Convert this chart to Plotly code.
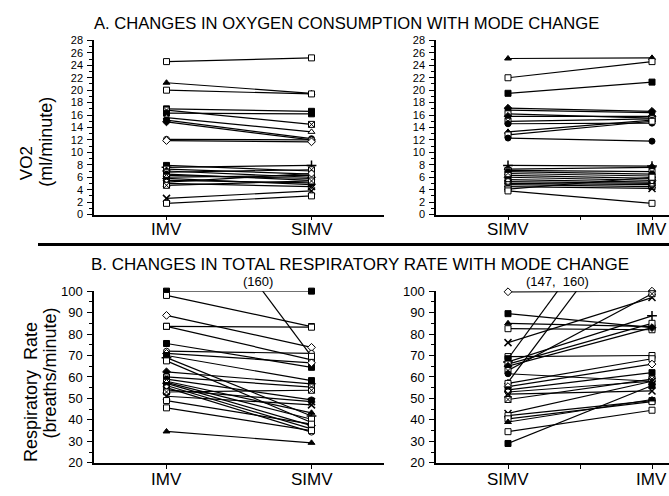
import plotly.graph_objects as go

W, H = 669, 496

# ---------------- data ----------------
# Panel A (VO2, ml/minute)
vo2_left_imv = [24.6, 21.2, 20.0, 17.0, 16.8, 16.3, 15.6, 15.2, 14.9, 12.1, 11.9,
                7.9, 7.6, 7.3, 7.0, 6.8, 6.5, 6.3, 6.0, 5.8, 5.5, 5.2, 5.0, 4.7, 2.6, 1.8]
vo2_left_simv = [25.2, 19.5, 19.4, 16.6, 14.5, 16.2, 13.3, 12.2, 12.0, 12.0, 11.7,
                 7.0, 7.9, 6.5, 6.0, 7.2, 5.5, 5.8, 6.3, 4.8, 5.1, 6.6, 4.5, 5.4, 3.8, 3.0]
vo2_right_simv = [25.1, 22.0, 19.5, 17.1, 16.8, 16.2, 15.8, 15.0, 14.6, 13.3, 12.8, 12.3,
                  7.9, 7.3, 7.1, 6.9, 6.6, 6.3, 6.0, 5.6, 5.3, 5.0, 4.8, 4.5, 4.1, 3.8]
vo2_right_imv = [25.2, 24.6, 21.3, 16.6, 16.4, 15.5, 15.8, 15.4, 14.7, 15.2, 15.0, 11.8,
                 7.8, 7.6, 6.9, 6.5, 6.2, 5.8, 5.5, 5.2, 5.0, 4.8, 4.5, 4.2, 6.0, 1.8]

# Panel B (respiratory rate, breaths/minute); values above 100 run off the axis
rr_left_imv = [100, 98, 88.7, 83.6, 83.6, 75.6, 72, 71, 70, 69, 67.5, 62.4, 60, 59, 58,
               57.5, 57, 56, 55, 54, 53, 51, 49, 45.6, 34.6, 160]
rr_left_simv = [100, 83.5, 73.8, 83.2, 68, 64.5, 71, 66.6, 58.3, 41.8, 38.8, 56.8, 55.3,
                49.3, 43.3, 40.3, 37.3, 35.8, 34.3, 48.5, 53.8, 47, 38, 35, 29.3, 69.6]
rr_right_simv = [99.7, 89.5, 85, 82.5, 76, 69.5, 68.5, 67, 66, 65, 63, 61.5, 57.5, 57,
                 55.5, 54, 53, 52, 49.5, 43, 42, 40.5, 39, 34.5, 29]
rr_right_imv = [100, 83, 83.5, 82, 97, 70, 160, 88.5, 85, 83, 98.8, 58, 147, 68.5, 66,
                62, 58, 53.5, 59, 58, 49, 48.5, 49.5, 44.5, 56]

left_labels = ["IMV", "SIMV"]
right_labels = ["SIMV", "IMV"]
vo2_ticks = list(range(0, 29, 2))
rr_ticks = list(range(20, 101, 10))

# ---------------- styling ----------------
FONT = "Liberation Sans, Arial, Helvetica, sans-serif"
STYLE_CYCLE = [
    ("square", "white"), ("triangle-up", "black"), ("square", "white"), ("square", "black"),
    ("square-x", "white"), ("square", "black"), ("triangle-up", "white"), ("circle", "black"),
    ("diamond", "black"), ("circle", "white"), ("diamond", "white"), ("square", "black"),
    ("cross-thin-open", "black"), ("square", "white"), ("diamond", "black"), ("square-x", "white"),
    ("circle", "black"), ("triangle-up", "black"), ("square", "white"), ("diamond", "white"),
    ("square", "black"), ("circle", "white"), ("x-thin-open", "black"), ("square-x", "white"),
    ("x-thin-open", "black"), ("square", "white"),
]
# leading markers specific to some panels
VO2_RIGHT_HEAD = [("triangle-up", "black"), ("square", "white"), ("square", "black"),
                  ("diamond", "black"), ("circle", "black"), ("square", "white"),
                  ("diamond", "black"), ("square-x", "white"), ("circle", "black"),
                  ("triangle-up", "black"), ("square", "white"), ("circle", "black"),
                  ("cross-thin-open", "black")]
RR_LEFT_HEAD = [("square", "black"), ("square", "white"), ("diamond", "white"),
                ("square", "white"), ("square", "white"), ("square", "black")]
RR_RIGHT_HEAD = [("diamond", "white"), ("square", "black"), ("triangle-up", "black"),
                 ("square", "white"), ("x-thin-open", "black"), ("square", "white")]

fig = go.Figure()


def add_panel(xa, ya, start, end, ymax, offset=0, head=None):
    head = head or []
    for i, (a, b) in enumerate(zip(start, end)):
        if i < len(head):
            sym, fill = head[i]
        else:
            sym, fill = STYLE_CYCLE[(i + offset) % len(STYLE_CYCLE)]
        thin = "thin" in sym
        off = max(a, b) > ymax
        fig.add_trace(go.Scatter(
            x=[0, 1], y=[a, b], xaxis=xa, yaxis=ya, mode="lines+markers",
            line=dict(color="black", width=1.2),
            marker=dict(symbol=sym, size=6 if not thin else 7, color=fill,
                        line=dict(color="black", width=1.5 if thin else 1)),
            cliponaxis=off, showlegend=False, hoverinfo="skip"))


add_panel("x", "y", vo2_left_imv, vo2_left_simv, 28)
add_panel("x2", "y2", vo2_right_simv, vo2_right_imv, 28, offset=1, head=VO2_RIGHT_HEAD)
add_panel("x3", "y3", rr_left_imv, rr_left_simv, 100, offset=3, head=RR_LEFT_HEAD)
add_panel("x4", "y4", rr_right_simv, rr_right_imv, 100, offset=5, head=RR_RIGHT_HEAD)


def px_x(p):
    return p / W


def px_y(p):
    return 1 - p / H


LX0, LX1 = 94, 384
RX0 = 436
TOP_Y = (214, 34.5)
BOT_Y = (470, 293)

xcommon = dict(showline=True, linecolor="black", linewidth=1.5, ticks="outside",
               ticklen=4, tickwidth=1.2, tickcolor="black", showgrid=False,
               zeroline=False, showticklabels=False, fixedrange=True)
ycommon = dict(showline=True, linecolor="black", linewidth=1.5, ticks="outside",
               ticklen=5, tickwidth=1.2, tickcolor="black", showgrid=False,
               zeroline=False, fixedrange=True, ticklabelstandoff=2)

left_range = [-0.5, 1.5]
right_range = [-0.5, (W - 508) / 144]

layout = dict(
    width=W, height=H, margin=dict(l=0, r=0, t=0, b=0),
    paper_bgcolor="white", plot_bgcolor="white",
    font=dict(family=FONT, color="black"),
    xaxis=dict(domain=[px_x(LX0), px_x(LX1)], range=left_range, tickvals=[0, 1],
               anchor="y", **xcommon),
    xaxis2=dict(domain=[px_x(RX0), 1.0], range=right_range, tickvals=[0, 0.5, 1],
                anchor="y2", **xcommon),
    xaxis3=dict(domain=[px_x(LX0), px_x(LX1)], range=left_range, tickvals=[0, 1],
                anchor="y3", **xcommon),
    xaxis4=dict(domain=[px_x(RX0), 1.0], range=right_range, tickvals=[0, 0.5, 1],
                anchor="y4", **xcommon),
    yaxis=dict(domain=[px_y(TOP_Y[0]), px_y(TOP_Y[1])], range=[0, 28], tickvals=vo2_ticks,
               minor=dict(dtick=1, tick0=0, ticks="outside", ticklen=3, tickcolor="black"),
               tickfont=dict(size=11, color="black"), anchor="x", **ycommon),
    yaxis2=dict(domain=[px_y(TOP_Y[0]), px_y(TOP_Y[1])], range=[0, 28], tickvals=vo2_ticks,
                minor=dict(dtick=1, tick0=0, ticks="outside", ticklen=3, tickcolor="black"),
                tickfont=dict(size=11, color="black"), anchor="x2", **ycommon),
    yaxis3=dict(domain=[px_y(BOT_Y[0]), px_y(BOT_Y[1])], range=[20, 100], tickvals=rr_ticks,
                minor=dict(dtick=5, tick0=0, ticks="outside", ticklen=3, tickcolor="black"),
                tickfont=dict(size=13, color="black"), anchor="x3", **ycommon),
    yaxis4=dict(domain=[px_y(BOT_Y[0]), px_y(BOT_Y[1])], range=[20, 100], tickvals=rr_ticks,
                minor=dict(dtick=5, tick0=0, ticks="outside", ticklen=3, tickcolor="black"),
                tickfont=dict(size=13, color="black"), anchor="x4", **ycommon),
)
fig.update_layout(**layout)


def ann(text, x, y, size, angle=0):
    fig.add_annotation(text=text, x=px_x(x), y=px_y(y), xref="paper", yref="paper",
                       showarrow=False, textangle=angle, xanchor="center", yanchor="middle",
                       font=dict(size=size, color="black", family=FONT))


def cat_labels(xref, labels, ypx, last_right=False):
    for i, lab in enumerate(labels):
        if last_right and i == len(labels) - 1:
            fig.add_annotation(text=lab, x=1.0, y=px_y(ypx), xref="paper", yref="paper",
                               showarrow=False, xanchor="right", yanchor="middle",
                               font=dict(size=17, color="black", family=FONT))
        else:
            fig.add_annotation(text=lab, x=i, y=px_y(ypx), xref=xref, yref="paper",
                               showarrow=False, xanchor="center", yanchor="middle",
                               font=dict(size=17, color="black", family=FONT))


cat_labels("x", left_labels, 229)
cat_labels("x2", right_labels, 229, last_right=True)
cat_labels("x3", left_labels, 487)
cat_labels("x4", right_labels, 487, last_right=True)

ann("A. CHANGES IN OXYGEN CONSUMPTION WITH MODE CHANGE", 346, 17, 16.6)
ann("B. CHANGES IN TOTAL RESPIRATORY RATE WITH MODE CHANGE", 360, 266, 17.0)
ann("VO2", 26, 161, 17, -90)
ann("(ml/minute)", 46, 139, 18, -90)
ann("Respiratory  Rate", 31, 397, 18, -90)
ann("(breaths/minute)", 50, 378, 18, -90)
ann("(160)", 258, 283, 13)
ann("(147,  160)", 557, 283, 13)

fig.add_shape(type="line", xref="paper", yref="paper", x0=px_x(38), x1=1.0,
              y0=px_y(245), y1=px_y(245), line=dict(color="black", width=3))

fig.write_html("out.html",
               config={"displayModeBar": False},
               post_script="document.body.style.margin='0px';"
                           "document.body.style.overflow='hidden';")
